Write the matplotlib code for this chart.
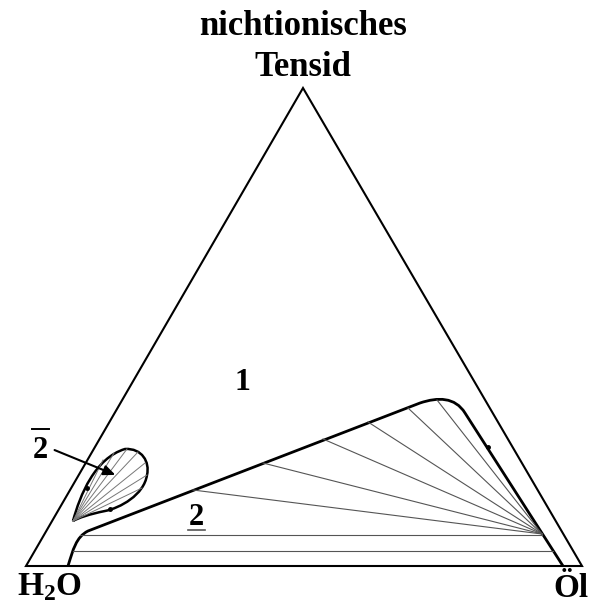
import numpy as np
import matplotlib.pyplot as plt
from matplotlib.path import Path
from matplotlib.patches import PathPatch

plt.rcParams['font.family'] = ['Liberation Serif', 'DejaVu Serif']
plt.rcParams['mathtext.fontset'] = 'custom'
plt.rcParams['mathtext.rm'] = 'Liberation Serif:bold'
plt.rcParams['mathtext.bf'] = 'Liberation Serif:bold'

# Koordinaten im Bildraum (x nach rechts, y nach unten)
ecken_x = [26, 582, 303]          # H2O, Öl, Tensid
ecken_y = [566, 566, 88]

# Zweiphasengebiet (2): Rand
rand_pts = [(68, 566), (73, 550), (76, 537), (88, 531),
            (420, 403), (438, 397), (455, 397), (465, 413),
            (563, 566)]
rand_codes = [Path.MOVETO, Path.CURVE4, Path.CURVE4, Path.CURVE4,
              Path.LINETO, Path.CURVE4, Path.CURVE4, Path.CURVE4,
              Path.LINETO]

# Konoden im Gebiet 2
konv_x, konv_y = 542, 534
konode_x = [193, 263, 323, 368, 408, 437]
konode_y = [490, 463, 439, 422, 408, 400]
horiz_y = [535, 551]
horiz_x0 = [80, 73]
horiz_x1 = [542, 553]

# Gebiet 2-quer (kleine Blase)
blase_pts = [(73, 521), (80, 495), (95, 458), (125, 449),
             (142, 448), (150, 462), (147, 475),
             (144, 495), (120, 508), (105, 511),
             (90, 514), (78, 518), (73, 521)]
blase_codes = [Path.MOVETO] + [Path.CURVE4] * 12
spitze_x, spitze_y = 73, 521
blase_end_x = [103, 114, 127, 138, 145, 147, 142]
blase_end_y = [460, 453, 449, 452, 463, 475, 488]

punkte_x = [87, 110, 488]
punkte_y = [488, 509, 447]

fig = plt.figure(figsize=(5.9, 6.03), dpi=100)
ax = fig.add_axes([0, 0, 1, 1])
ax.set_xlim(0, 590)
ax.set_ylim(603, 0)
ax.axis('off')

# Dreieck
ax.fill(ecken_x, ecken_y, fill=False, ec='black', lw=1.5, joinstyle='miter')

# Konoden
for x, y in zip(konode_x, konode_y):
    ax.plot([x, konv_x], [y, konv_y], color='#555555', lw=0.8)
for y, x0, x1 in zip(horiz_y, horiz_x0, horiz_x1):
    ax.plot([x0, x1], [y, y], color='#555555', lw=0.8)
for x, y in zip(blase_end_x, blase_end_y):
    ax.plot([spitze_x, x], [spitze_y, y], color='#777777', lw=0.7)

ax.add_patch(PathPatch(Path(rand_pts, rand_codes), fill=False, ec='black', lw=2.0))
ax.add_patch(PathPatch(Path(blase_pts, blase_codes), fill=False, ec='black', lw=1.8))
ax.plot(punkte_x, punkte_y, 'o', color='black', ms=2.5)

# Beschriftungen
kw = dict(fontweight='bold', color='black')
ax.text(303, 35, 'nichtionisches', ha='center', va='baseline', fontsize=25, **kw)
ax.text(303, 76, 'Tensid', ha='center', va='baseline', fontsize=25, **kw)
ax.text(17, 595, r'H$_{\mathrm{2}}$O', ha='left', va='baseline', fontsize=24, **kw)
ax.text(553, 597, 'Öl', ha='left', va='baseline', fontsize=24, **kw)
ax.text(242, 390, '1', ha='center', va='baseline', fontsize=23, **kw)

ax.text(196, 525, '2', ha='center', va='baseline', fontsize=22, **kw)
ax.plot([188, 205], [530, 530], color='#555555', lw=1.2)

ax.text(40, 458, '2', ha='center', va='baseline', fontsize=22, **kw)
ax.plot([32, 49], [429, 429], color='black', lw=1.4)
ax.annotate('', xy=(118, 476), xytext=(52, 449),
            arrowprops=dict(arrowstyle='-|>,head_length=0.7,head_width=0.3',
                            color='black', lw=1.5))

fig.savefig('out.png', dpi=100)
